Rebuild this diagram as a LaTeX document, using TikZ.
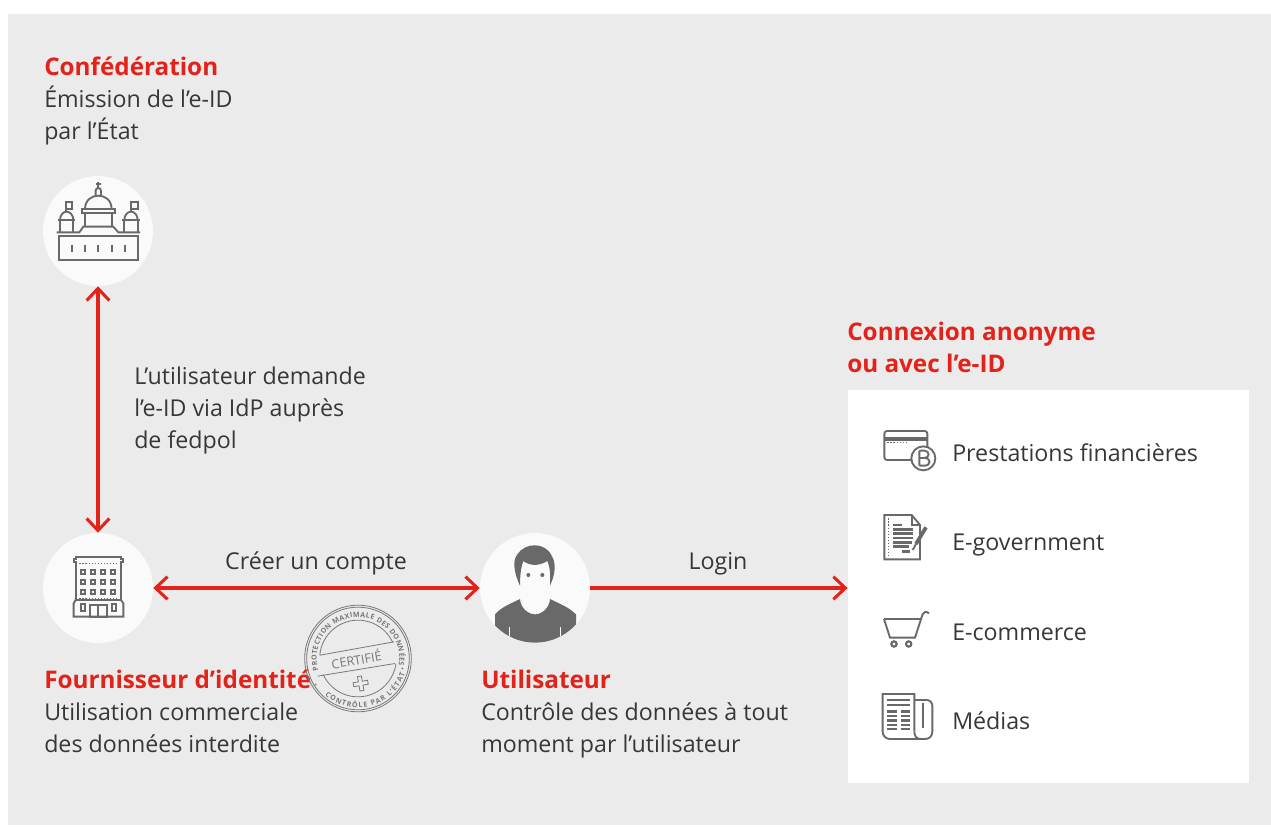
\documentclass[tikz,border=0pt]{standalone}
\usepackage{fontspec}
\setmainfont{Open Sans}
\usetikzlibrary{arrows.meta,decorations.text}
\definecolor{bggray}{RGB}{235,235,235}
\definecolor{cirwhite}{RGB}{250,250,250}
\definecolor{swissred}{RGB}{227,34,25}
\definecolor{bodytext}{RGB}{55,55,55}
\definecolor{icongray}{RGB}{105,105,105}
\definecolor{stampgray}{RGB}{120,120,120}
\newcommand{\hd}[1]{\textcolor{swissred}{\fontsize{18.2pt}{23.9pt}\selectfont\textbf{#1}}}
\tikzset{
    disc/.style={circle,fill=cirwhite,minimum size=82.5pt,inner sep=0pt},
    txt/.style={anchor=north west,inner sep=0pt,align=left,text=bodytext,font=\fontsize{17.4pt}{23.9pt}\selectfont},
    lbl/.style={anchor=base,inner sep=0pt,text=bodytext,font=\fontsize{17.4pt}{23.9pt}\selectfont},
    redline/.style={draw=swissred,line width=2.3pt,{Straight Barb[length=9pt,width=17pt,line width=2.3pt]}-{Straight Barb[length=9pt,width=17pt,line width=2.3pt]}},
    redone/.style={draw=swissred,line width=2.3pt,-{Straight Barb[length=9pt,width=17pt,line width=2.3pt]}},
    icon/.style={draw=icongray,line width=1.4pt},
    iconbar/.style={draw=icongray,line width=1.9pt},
    icondots/.style={draw=icongray,line width=1.2pt,dash pattern=on 1pt off 1.3pt},
    stampline/.style={draw=stampgray,line width=.6pt},
}
\begin{document}
\begin{tikzpicture}[x=.75pt,y=-.75pt]
    \useasboundingbox (0,0) rectangle (1271,827);
    \fill[bggray] (8,14) rectangle (1271,825);
    \node[disc] (conf) at (98,231) {};
    \node[disc] (idp) at (98,588) {};
    \node[disc] (user) at (535,588) {};
    \node[fill=white,minimum width=301pt,minimum height=295pt,inner sep=0pt] (panel) at (1048.5,586.5) {};
    \draw[redline] (conf) -- (idp);
    \draw[redline] (idp) -- (user);
    \draw[redone] (user) -- (user -| panel.west);
    \node[txt] (conftxt) at (44,57) {\hd{Confédération}\\Émission de l’e-ID\\par l’État};
    \node[txt] (asktxt) at (134,367) {L’utilisateur demande\\l’e-ID via IdP auprès\\de fedpol};
    \node[lbl] (createlbl) at (316,569) {Créer un compte};
    \node[lbl] (loginlbl) at (718,569) {Login};
    \node[txt] (idptxt) at (44,670) {\hd{Fournisseur d’identité}\\Utilisation commerciale\\des données interdite};
    \node[txt] (usertxt) at (481,670) {\hd{Utilisateur}\\Contrôle des données à tout\\moment par l’utilisateur};
    \node[txt] (paneltxt) at (847,322) {\hd{Connexion anonyme}\\\hd{ou avec l’e-ID}};
    \node[lbl,anchor=base west] (finlbl) at (952,461) {Prestations financières};
    \node[lbl,anchor=base west] (govlbl) at (952,550) {E-government};
    \node[lbl,anchor=base west] (comlbl) at (952,640) {E-commerce};
    \node[lbl,anchor=base west] (medlbl) at (952,729) {Médias};
    \begin{scope}[shift={(30,170)},x=.25pt,y=-.25pt]
        \draw[icon] (88,198) rectangle (325,270);
        \draw[icon] (80,187) -- (148,187) -- (160,170) -- (250,170) -- (265,187) -- (330,187);
        \foreach \wx in {125,165,205,245,285}
            \draw[icon] (\wx,225) -- (\wx,246);
        \draw[icon] (165,170) -- (165,128) (245,170) -- (245,128);
        \draw[icon] (155,118) rectangle (255,128);
        \draw[icon] (165,118) .. controls (165,90) and (185,77) .. (205,77) .. controls (225,77) and (245,90) .. (245,118);
        \draw[icon] (197,77) -- (197,62) arc (180:360:8) -- (213,77);
        \draw[icon] (205,36) -- (205,54) (198,43) -- (212,43);
        \draw[icon] (90,187) -- (90,150) (130,187) -- (130,150) (84,150) -- (136,150);
        \draw[icon] (90,150) .. controls (90,135) and (100,125) .. (110,125) .. controls (120,125) and (130,135) .. (130,150);
        \draw[icon] (108,125) -- (108,97) rectangle (127,116);
        \draw[icon] (283,187) -- (283,150) (323,187) -- (323,150) (277,150) -- (329,150);
        \draw[icon] (283,150) .. controls (283,135) and (293,125) .. (303,125) .. controls (313,125) and (323,135) .. (323,150);
        \draw[icon] (303,125) -- (303,97) rectangle (323,116);
    \end{scope}
    \begin{scope}[shift={(30,525)},x=.25pt,y=-.25pt]
        \draw[icon] (137,115) -- (137,112) -- (132,112) -- (132,102) -- (137,102) -- (137,96) -- (273,96) -- (273,102) -- (279,102) -- (279,112) -- (273,112) -- (273,225);
        \draw[icon] (137,115) -- (137,225);
        \draw[icon] (131,275) -- (131,235) -- (137,225) -- (273,225) -- (280,235) -- (280,275) -- cycle;
        \draw[icondots] (148,115) -- (264,115);
        \draw[icondots] (148,222) -- (264,222);
        \foreach \wx in {160,190,220,250}
            \foreach \wy in {140,170,200}
                \draw[icon] (\wx-6,\wy-6) rectangle (\wx+6,\wy+6);
        \draw[icon] (180,240) rectangle (230,275);
        \draw[icon] (205,240) -- (205,275);
        \draw[icon] (153,238) rectangle (165,258);
        \draw[icon] (245,238) rectangle (258,258);
    \end{scope}
    \begin{scope}[shift={(470,525)},x=.25pt,y=-.25pt]
        \clip (195,188) circle (165);
        \fill[icongray] (75,400) -- (75,268) .. controls (95,245) and (125,235) .. (150,222) .. controls (152,250) and (175,268) .. (195,268) .. controls (215,268) and (238,250) .. (240,222) .. controls (265,235) and (295,245) .. (318,268) -- (318,400) -- cycle;
        \draw[white,line width=1pt] (118,305) -- (118,345) (272,305) -- (272,345);
        \fill[icongray] (150,182) .. controls (130,140) and (128,105) .. (142,88) .. controls (165,52) and (225,50) .. (245,92) .. controls (260,115) and (255,150) .. (240,182) .. controls (242,150) and (240,125) .. (232,108) .. controls (205,125) and (178,122) .. (160,108) .. controls (152,130) and (150,155) .. (150,182) -- cycle;
        \fill[icongray] (175,150) circle (6) (217,150) circle (6);
    \end{scope}
    \begin{scope}[shift={(870,420)},x=.25pt,y=-.25pt]
        \draw[icon,rounded corners=2pt] (43,33) rectangle (172,120);
        \fill[icongray] (43,52) rectangle (172,62);
        \draw[icondots] (52,68) -- (108,68);
        \draw[icon,fill=white] (160,115) circle (36);
        \draw[icon] (148,92) -- (148,137) (148,92) -- (163,92) .. controls (180,92) and (180,114) .. (163,114) -- (148,114) (163,114) .. controls (184,114) and (184,137) .. (163,137) -- (148,137);
        \draw[icon] (43,285) -- (125,285) -- (150,315) -- (150,418) -- (43,418) -- cycle;
        \draw[icon] (125,285) -- (125,315) -- (150,315);
        \draw[icondots] (55,295) -- (55,412);
        \draw[iconbar] (70,315) -- (95,315);
        \foreach \ly/\lx in {328/128,341/128,354/128,367/125,380/118}
            \draw[iconbar] (70,\ly) -- (\lx,\ly);
        \draw[iconbar] (95,395) -- (120,395);
        \draw[icon,line width=2.8pt] (168,322) -- (138,372);
        \draw[icon] (138,372) -- (128,390);
    \end{scope}
    \begin{scope}[shift={(870,600)},x=.25pt,y=-.25pt]
        \draw[icon] (42,57) -- (152,57);
        \draw[icon] (42,57) -- (60,113) -- (135,113) -- (158,42) .. controls (161,34) and (170,34) .. (177,40);
        \draw[icon,line width=1.6pt] (72,132) circle (8) (116,132) circle (8);
        \draw[icon] (133,395) -- (133,282) -- (38,282) -- (38,395) .. controls (38,408) and (48,417) .. (60,417) -- (165,417) .. controls (178,417) and (187,408) .. (187,395) -- (187,318) .. controls (187,308) and (180,300) .. (170,300) -- (133,300);
        \draw[icon] (133,395) .. controls (133,408) and (140,417) .. (152,417);
        \draw[icon] (160,310) -- (160,385);
        \draw[iconbar] (50,300) -- (120,300);
        \draw[icon] (50,314) -- (120,314);
        \foreach \ly in {335,348,361,375,387}
            \draw[iconbar] (50,\ly) -- (80,\ly) (92,\ly) -- (120,\ly);
    \end{scope}
    \begin{scope}[shift={(358,658.5)},x=.25pt,y=.25pt]
        \draw[stampline] (0,0) circle (160);
        \draw[stampline] (0,0) circle (154);
        \draw[stampline] (-114,10) -- (108,50);
        \draw[stampline] (-121,-53) -- (111,-15);
        \draw[stampline] (175:115) arc (175:25:115);
        \draw[stampline] (205:115) arc (205:352:115);
        \path[decorate,decoration={text along path,text align={fit to path},text color=stampgray,text={|\fontsize{5.3pt}{6pt}\selectfont\bfseries|PROTECTION MAXIMALE DES DONNÉES}}] (197:124) arc (197:-10:124);
        \path[decorate,decoration={text along path,text align={fit to path},text color=stampgray,text={|\fontsize{5.3pt}{6pt}\selectfont\bfseries|CONTRÔLE PAR L’ÉTAT}}] (228:148) arc (228:342:148);
        \node[rotate=10,inner sep=0pt,text=stampgray,font=\fontsize{9.5pt}{10pt}\selectfont] (certif) at (-5,-2) {CERTIFIÉ};
        \draw[stampline,rotate around={10:(8,-75)}] (2,-53) -- (14,-53) -- (14,-69) -- (30,-69) -- (30,-81) -- (14,-81) -- (14,-97) -- (2,-97) -- (2,-81) -- (-14,-81) -- (-14,-69) -- (2,-69) -- cycle;
        \fill[stampgray] (-127,-78) circle (3) (133,-30) circle (3);
    \end{scope}
\end{tikzpicture}
\end{document}
